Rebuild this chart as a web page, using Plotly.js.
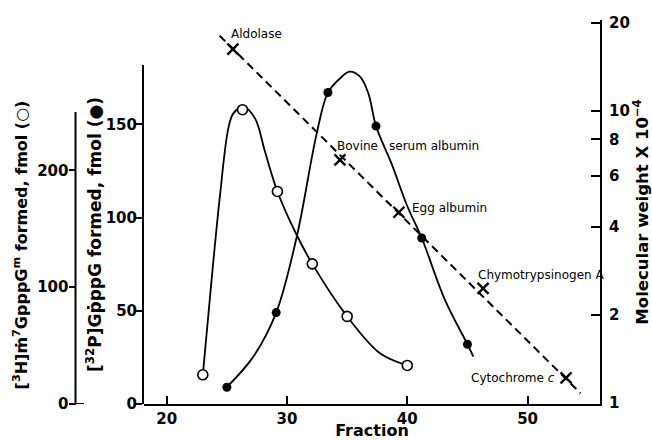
<!DOCTYPE html>
<html><head><meta charset="utf-8">
<script src="https://cdn.plot.ly/plotly-3.0.1.min.js"></script>
<style>html,body{margin:0;padding:0;background:#fff}#chart{width:652px;height:440px}</style>
</head><body><div id="chart"></div>
<script>
// ---- Data ----
// [3H]m7GpppGm formed (open circles, outer left axis)
const hFraction = [23.0, 26.3, 29.2, 32.1, 35.0, 40.0];
const hFmol     = [25, 252, 182, 120, 75, 33];
// hand-drawn smooth curve through the open circles
const hCurveFraction = [23.0, 23.74, 24.43, 25.12, 25.54, 26.4, 27.34, 28.17, 29.2, 30.67, 32.1, 35.0, 37.73, 40.0];
const hCurveFmol     = [25, 107.6, 178.9, 236.0, 248.9, 254.5, 244.6, 216.0, 182, 147.5, 120, 75, 43.4, 33];

// [32P]GpppG formed (filled circles, inner left axis)
const pFraction = [25.0, 29.1, 33.4, 37.4, 41.2, 45.0];
const pFmol     = [9, 49, 167, 149, 89, 32];
const pCurveFraction = [25.0, 27.2, 29.1, 30.81, 32.47, 33.4, 34.41, 35.2, 36.07, 36.76, 37.4, 38.73, 39.96, 41.2, 43.13, 45.0, 45.49];
const pCurveFmol     = [9, 25.4, 49, 89.7, 145.1, 167, 174.6, 178.2, 175.5, 166.6, 149, 128.2, 106.7, 89, 55.8, 32, 25.4];

// Molecular-weight markers (right log axis, MW x 10^-4)
const proteinNames    = ['Aldolase', 'Bovine serum albumin', 'Egg albumin', 'Chymotrypsinogen A', 'Cytochrome c'];
const proteinFraction = [25.5, 34.4, 39.3, 46.3, 53.2];
const proteinMW       = [16.3, 6.8, 4.5, 2.47, 1.22];
// calibration line (dashed)
const fitFraction = [24.4, 54.4];
const fitMW       = [18.1, 1.08];

// Tick labels
const xTicks  = [20, 30, 40, 50];
const hTicks  = [0, 100, 200];
const pTicks  = [0, 50, 100, 150];
const mwTicks = [1, 2, 4, 6, 8, 10, 20];

// ---- Layout helpers ----
const W = 652, H = 440, L = 40, R = 52, T = 20, B = 36;
const plotW = W - L - R, plotH = H - T - B;
const px = v => (v - L) / plotW;
const py = v => (H - B - v) / plotH;

const tickFont  = {family: 'DejaVu Sans', size: 15, color: '#000', weight: 'bold'};
const titleFont = {family: 'DejaVu Sans', size: 16, color: '#000', weight: 'bold'};
const labFont   = {family: 'DejaVu Sans', size: 12, color: '#000'};

const traces = [
  {x: hCurveFraction, y: hCurveFmol, xaxis: 'x', yaxis: 'y', mode: 'lines',
   line: {color: '#000', width: 1.8, shape: 'spline', smoothing: 1}, hoverinfo: 'skip', showlegend: false},
  {x: pCurveFraction, y: pCurveFmol, xaxis: 'x', yaxis: 'y2', mode: 'lines',
   line: {color: '#000', width: 1.8, shape: 'spline', smoothing: 1}, hoverinfo: 'skip', showlegend: false},
  {x: fitFraction, y: fitMW, xaxis: 'x', yaxis: 'y3', mode: 'lines',
   line: {color: '#000', width: 2, dash: '8px,5px'}, showlegend: false},
  {x: hFraction, y: hFmol, xaxis: 'x', yaxis: 'y', mode: 'markers', cliponaxis: false,
   marker: {symbol: 'circle', size: 10, color: '#fff', line: {color: '#000', width: 1.6}}, showlegend: false},
  {x: pFraction, y: pFmol, xaxis: 'x', yaxis: 'y2', mode: 'markers', cliponaxis: false,
   marker: {symbol: 'circle', size: 9, color: '#000'}, showlegend: false},
  {x: proteinFraction, y: proteinMW, text: proteinNames, xaxis: 'x', yaxis: 'y3', mode: 'markers', cliponaxis: false,
   marker: {symbol: 'x-thin', size: 11, line: {color: '#000', width: 2.4}}, showlegend: false}
];

const layout = {
  width: W, height: H,
  margin: {l: L, r: R, t: T, b: B, pad: 0},
  paper_bgcolor: '#fff', plot_bgcolor: 'rgba(0,0,0,0)',
  showlegend: false,
  xaxis: {
    domain: [px(144), 1], range: [18.11, 56.02], anchor: 'y3',
    tickvals: xTicks, ticks: 'inside', ticklen: 8, tickwidth: 2, tickcolor: '#000',
    showline: true, linewidth: 2, linecolor: '#000', showgrid: false, zeroline: false,
    tickfont: tickFont, automargin: false,
    title: {text: 'Fraction', font: {family: 'DejaVu Sans', size: 16, color: '#000', weight: 'bold'}, standoff: 5}
  },
  yaxis: {
    domain: [0, py(86)], range: [0, 272.3], anchor: 'free', position: px(75.5), side: 'left',
    tickvals: hTicks, ticks: 'outside', ticklen: 7, tickwidth: 2, tickcolor: '#000', ticklabelstandoff: -3,
    showline: false, showgrid: false, zeroline: false, tickfont: tickFont, automargin: false,
    title: {text: '[<sup>3</sup>H]\u1e41<sup>7</sup>GpppG<sup>m</sup> formed, fmol (\u25cb)', font: titleFont, standoff: 4}
  },
  yaxis2: {
    domain: [0, py(65)], range: [0, 181.77], anchor: 'x', side: 'left',
    tickvals: pTicks, ticks: 'outside', ticklen: 7, tickwidth: 2, tickcolor: '#000', ticklabelstandoff: -5,
    showline: true, linewidth: 2, linecolor: '#000', showgrid: false, zeroline: false,
    tickfont: tickFont, automargin: false,
    title: {text: '[<sup>32</sup>P]G\u1e57ppG formed, fmol (\u25cf)', font: {family: 'DejaVu Sans', size: 17, color: '#000', weight: 'bold'}, standoff: 0}
  },
  yaxis3: {
    type: 'log', domain: [0, 1], range: [-0.0034, 1.3116], anchor: 'x', side: 'right',
    tickvals: mwTicks, ticktext: mwTicks.map(String), ticks: 'inside', ticklen: 9, tickwidth: 2, tickcolor: '#000', ticklabelstandoff: 4,
    showline: true, linewidth: 2, linecolor: '#000', showgrid: false, zeroline: false,
    tickfont: tickFont, automargin: false,
    title: {text: 'Molecular weight X 10<sup>\u22124</sup>', font: {family: 'DejaVu Sans', size: 16.5, color: '#000', weight: 'bold'}, standoff: 4}
  },
  shapes: [
    {type: 'line', xref: 'paper', yref: 'y', x0: px(75.5), x1: px(75.5), y0: 0, y1: 250, line: {color: '#000', width: 2}},
    {type: 'line', xref: 'paper', yref: 'y', x0: px(75.5), x1: px(84), y0: 0, y1: 0, line: {color: '#000', width: 2}}
  ],
  annotations: [
    {text: 'Aldolase', xref: 'paper', yref: 'paper', x: px(229), y: py(34), xanchor: 'left', yanchor: 'middle', showarrow: false, font: labFont},
    {text: 'Bovine', xref: 'paper', yref: 'paper', x: px(335), y: py(146), xanchor: 'left', yanchor: 'middle', showarrow: false, font: labFont},
    {text: 'serum albumin', xref: 'paper', yref: 'paper', x: px(387), y: py(146), xanchor: 'left', yanchor: 'middle', showarrow: false, font: labFont},
    {text: 'Egg albumin', xref: 'paper', yref: 'paper', x: px(410), y: py(208), xanchor: 'left', yanchor: 'middle', showarrow: false, font: labFont},
    {text: 'Chymotrypsinogen A', xref: 'paper', yref: 'paper', x: px(476), y: py(275), xanchor: 'left', yanchor: 'middle', showarrow: false, font: labFont},
    {text: 'Cytochrome <i>c</i>', xref: 'paper', yref: 'paper', x: px(469), y: py(378), xanchor: 'left', yanchor: 'middle', showarrow: false, font: labFont}
  ]
};

Plotly.newPlot('chart', traces, layout, {staticPlot: true, displayModeBar: false});
</script>
</body></html>
